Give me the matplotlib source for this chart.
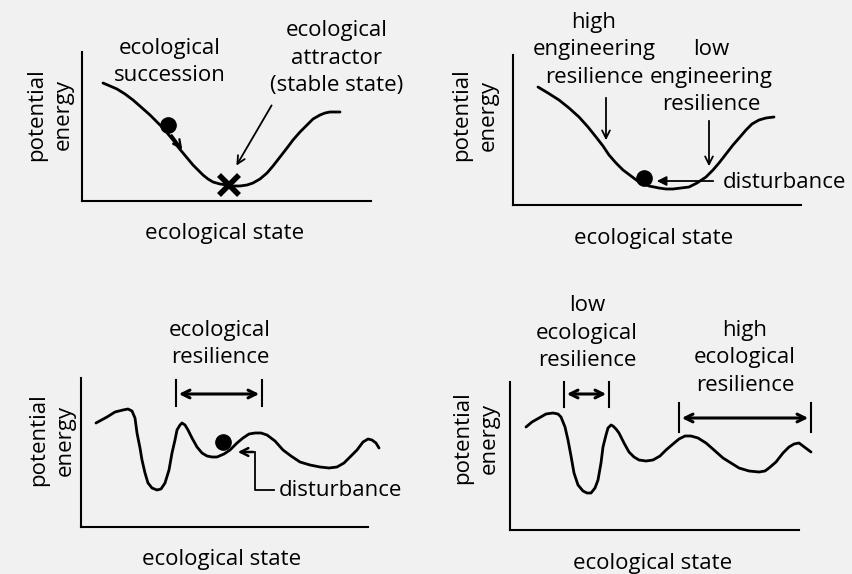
import matplotlib
matplotlib.use("Agg")
import matplotlib.pyplot as plt

W, H = 852, 574
BG = "#f1f1f1"
FONT = ["Open Sans", "DejaVu Sans"]
FS = 16

# panel frames (left, right, top, bottom) in picture pixels
FRAMES = [(82, 371, 52, 201), (513, 801, 55, 205), (81, 368, 378, 527), (510, 799, 382, 530)]

# landscape curves (x, y in pixels, y down)
c1_x = [103, 110, 117, 125, 133, 141, 150, 157, 163, 168, 173, 178, 183, 188, 193, 198, 203, 208, 213, 220,
        227, 233, 240, 247, 253, 260, 267, 273, 280, 287, 293, 300, 307, 313, 320, 325, 330, 335, 340]
c1_y = [83, 86, 89, 94, 100, 107, 115, 122, 128, 134, 140, 147, 153, 159, 165, 170, 175, 179, 182, 184,
        185, 186, 186, 185, 183, 179, 173, 166, 157, 148, 140, 132, 125, 119, 115, 113, 112, 112, 112]

c2_x = [538, 548, 559, 569, 579, 588, 596, 603, 609, 616, 623, 631, 639, 649, 659, 666, 673, 681, 689, 697,
        706, 713, 719, 726, 733, 740, 746, 752, 759, 766, 774]
c2_y = [87, 93, 100, 108, 117, 127, 137, 146, 155, 163, 170, 176, 182, 186, 188, 189, 189, 188, 187, 183,
        177, 170, 163, 154, 145, 137, 130, 124, 120, 118, 117]

c3_x = [96, 107, 115, 123, 128, 132, 135, 137, 140, 142, 145, 148, 152, 157, 161, 165, 169, 172, 175, 177,
        180, 182, 185, 188, 192, 197, 202, 207, 212, 217, 224, 230, 237, 243, 249, 255, 261, 267, 275, 283,
        291, 300, 310, 320, 329, 337, 344, 350, 357, 363, 368, 372, 376, 379]
c3_y = [423, 417, 412, 410, 409, 411, 418, 433, 448, 460, 473, 483, 488, 490, 489, 483, 470, 453, 440, 430,
        425, 423, 425, 430, 438, 447, 453, 456, 457, 457, 454, 450, 443, 438, 434, 433, 433, 435, 441, 450,
        456, 462, 465, 467, 468, 467, 463, 457, 450, 442, 439, 440, 443, 448]

c4_x = [526, 532, 539, 546, 553, 558, 561, 565, 568, 571, 574, 578, 583, 587, 591, 595, 598, 601, 603, 606,
        608, 611, 613, 616, 619, 624, 629, 634, 639, 646, 653, 660, 666, 673, 679, 685, 691, 698, 706, 714,
        723, 731, 739, 749, 759, 765, 769, 776, 783, 789, 794, 799, 803, 807, 811]
c4_y = [427, 422, 418, 414, 413, 414, 417, 427, 440, 456, 473, 485, 491, 493, 493, 488, 480, 463, 447, 435,
        428, 425, 426, 429, 433, 443, 452, 457, 460, 461, 460, 456, 450, 444, 439, 436, 436, 438, 443, 450,
        458, 463, 468, 471, 472, 471, 468, 462, 453, 447, 444, 443, 446, 449, 452]

CURVES = [(c1_x, c1_y), (c2_x, c2_y), (c3_x, c3_y), (c4_x, c4_y)]

# balls on the landscapes
BALLS = [(168, 125), (644, 178), (223, 442), None]

fig = plt.figure(figsize=(W / 100, H / 100), dpi=100)
fig.patch.set_facecolor(BG)

axes = []
for (x0, x1, y0, y1), (cx, cy), ball in zip(FRAMES, CURVES, BALLS):
    ax = fig.add_axes([x0 / W, 1 - y1 / H, (x1 - x0) / W, (y1 - y0) / H])
    ax.set_xlim(x0, x1)
    ax.set_ylim(y1, y0)
    ax.patch.set_alpha(0)
    for s in ("top", "right"):
        ax.spines[s].set_visible(False)
    for s in ("left", "bottom"):
        ax.spines[s].set_linewidth(1.5)
    ax.set_xticks([])
    ax.set_yticks([])
    ax.plot(cx, cy, color="black", lw=2, solid_joinstyle="round", solid_capstyle="round", clip_on=False)
    if ball is not None:
        ax.plot(*ball, "o", color="black", ms=11, clip_on=False)
    axes.append(ax)

txt = dict(ha="center", va="center", fontsize=FS, family=FONT, linespacing=1.4, clip_on=False)
thin = dict(arrowstyle="->", color="black", lw=1.3, mutation_scale=14)
fat = dict(arrowstyle="<->", color="black", lw=2.2, mutation_scale=14)

# axis labels
ylab_pos = [(50, 115), (475, 115), (52, 440), (476, 438)]
xlab_pos = [(225, 233), (654, 238), (222, 560), (653, 563)]
for ax, (yx, yy), (xx, xy) in zip(axes, ylab_pos, xlab_pos):
    ax.text(yx, yy, "potential\nenergy", rotation=90, **txt)
    ax.text(xx, xy, "ecological state", **txt)

# panel 1
a = axes[0]
a.text(170, 62, "ecological\nsuccession", **txt)
a.text(337, 58, "ecological\nattractor\n(stable state)", **txt)
a.annotate("", xy=(184, 152), xytext=(170, 133), arrowprops=dict(thin, lw=1.6), annotation_clip=False)
a.annotate("", xy=(235, 168), xytext=(273, 103), arrowprops=thin, annotation_clip=False)
a.plot(229, 185, "x", color="black", ms=15, mew=4, clip_on=False)

# panel 2
a = axes[1]
a.text(594, 50, "high\nengineering\nresilience", **txt)
a.text(711, 77, "low\nengineering\nresilience", **txt)
a.annotate("", xy=(606, 143), xytext=(606, 95), arrowprops=thin, annotation_clip=False)
a.annotate("", xy=(709, 169), xytext=(709, 118), arrowprops=thin, annotation_clip=False)
a.annotate("", xy=(654, 181), xytext=(716, 181), arrowprops=dict(thin, arrowstyle="-|>", lw=1.3),
           annotation_clip=False)
a.text(723, 182, "disturbance", **dict(txt, ha="left"))

# panel 3
a = axes[2]
a.text(220, 344, "ecological\nresilience", **txt)
for bx in (176, 262):
    a.plot([bx, bx], [380, 406], color="black", lw=1.5, clip_on=False)
a.annotate("", xy=(176, 394), xytext=(262, 394), arrowprops=fat, annotation_clip=False)
a.plot([274, 255, 255], [490, 490, 452], color="black", lw=1.3, clip_on=False)
a.annotate("", xy=(235, 452), xytext=(256, 452), arrowprops=dict(thin, lw=1.8), annotation_clip=False)
a.text(279, 491, "disturbance", **dict(txt, ha="left"))

# panel 4
a = axes[3]
a.text(587, 333, "low\necological\nresilience", **txt)
a.text(745, 358, "high\necological\nresilience", **txt)
for bx in (564, 609):
    a.plot([bx, bx], [382, 407], color="black", lw=1.5, clip_on=False)
a.annotate("", xy=(564, 394), xytext=(609, 394), arrowprops=fat, annotation_clip=False)
for bx in (679, 811):
    a.plot([bx, bx], [403, 432], color="black", lw=1.5, clip_on=False)
a.annotate("", xy=(679, 418), xytext=(811, 418), arrowprops=fat, annotation_clip=False)

fig.savefig("out.png", dpi=100, facecolor=BG)
